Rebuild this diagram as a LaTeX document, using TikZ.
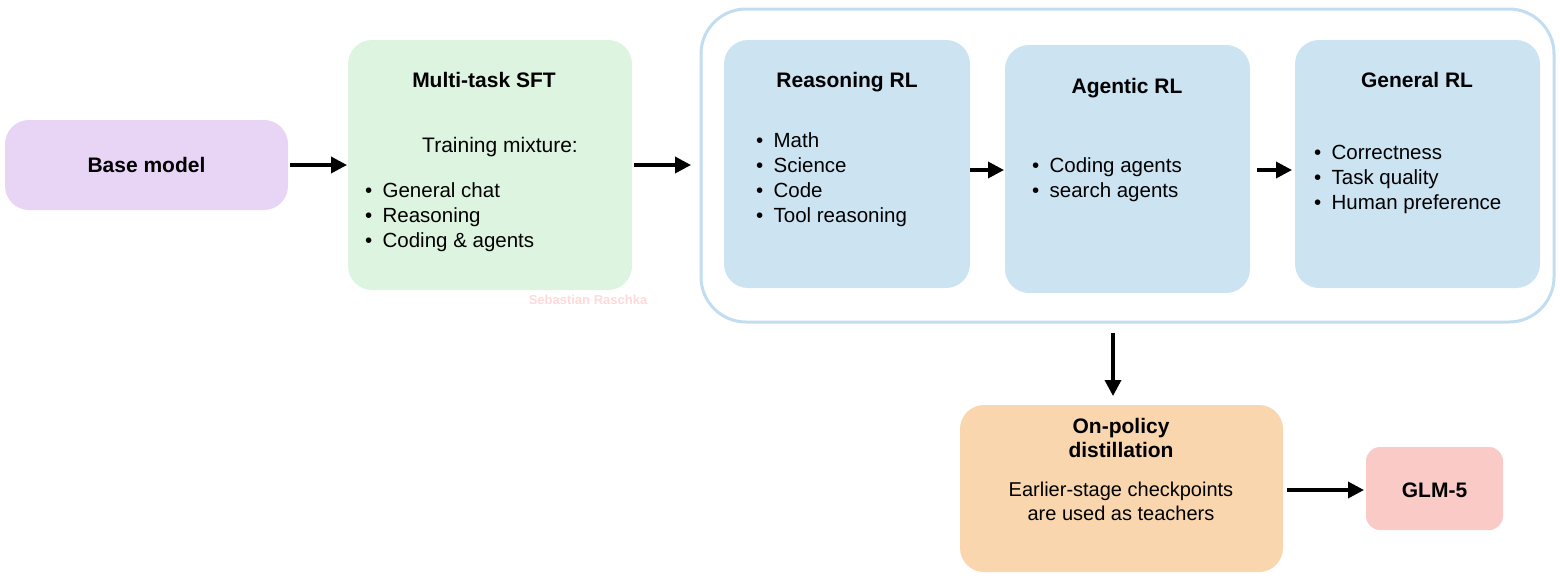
\documentclass[tikz,border=0pt]{standalone}
\usepackage{fontspec}
\setmainfont{Liberation Sans}
\usetikzlibrary{arrows.meta}
\definecolor{cpurple}{HTML}{E8D5F6}
\definecolor{cgreen}{HTML}{DDF5E0}
\definecolor{cblue}{HTML}{CCE3F2}
\definecolor{cout}{HTML}{C2DDF0}
\definecolor{corange}{HTML}{F9D6AE}
\definecolor{cpink}{HTML}{F9CAC6}
\begin{document}
\begin{tikzpicture}[x=1pt,y=-1pt,
  box/.style={rounded corners=24pt},
  t/.style={font=\fontsize{21}{24}\selectfont, anchor=base},
  tb/.style={font=\fontsize{21}{24}\selectfont\bfseries, anchor=base},
  bl/.style={font=\fontsize{20.5}{25}\selectfont, anchor=north west, align=left, inner sep=0pt},
  arr/.style={-{Triangle[length=16pt,width=16pt]}, line width=3.5pt}]
\useasboundingbox (0,0) rectangle (1560,579);
\fill[box,cpurple] (5,120) rectangle (288,210);
\node[tb] (base) at (146.5,172) {Base model};
\coordinate (baseR) at (290,165);
\fill[box,cgreen] (348,40) rectangle (632,290);
\node[tb] (sft) at (484,87) {Multi-task SFT};
\node[t] (mix) at (500,152) {Training mixture:};
\node[bl] (sftb) at (365,182) {•\enspace General chat\\•\enspace Reasoning\\•\enspace Coding \& agents};
\node[font=\fontsize{13}{14}\selectfont\bfseries, text=red!15] (wm) at (588,300) {Sebastian Raschka};
\draw[arr] (baseR) -- (347,165) coordinate (sftL);
\draw[arr] (634,165) coordinate (sftR) -- (691,165) coordinate (grpL);
\draw[cout, line width=3pt, rounded corners=45pt] (701,9) rectangle (1554,322);
\fill[box,cblue] (724,40) rectangle (970,288);
\node[tb] (rr) at (847,87) {Reasoning RL};
\node[bl] (rrb) at (756,132) {•\enspace Math\\•\enspace Science\\•\enspace Code\\•\enspace Tool reasoning};
\fill[box,cblue] (1005,45) rectangle (1250,293);
\node[tb] (ar) at (1127,93) {Agentic RL};
\node[bl] (arb) at (1032,157) {•\enspace Coding agents\\•\enspace search agents};
\fill[box,cblue] (1295,40) rectangle (1540,288);
\node[tb] (gr) at (1417,87) {General RL};
\node[bl] (grb) at (1314,145) {•\enspace Correctness\\•\enspace Task quality\\•\enspace Human preference};
\draw[arr] (970,170) coordinate (a1) -- (1004,170) coordinate (a2);
\draw[arr] (1257,170) coordinate (b1) -- (1292,170) coordinate (b2);
\draw[arr] (1113,333) coordinate (c1) -- (1113,396) coordinate (c2);
\fill[box,corange] (960,405) rectangle (1283,572);
\node[anchor=north, align=center, font=\fontsize{21}{24}\selectfont\bfseries] (op) at (1121,415) {On-policy\\distillation};
\node[anchor=north, align=center, font=\fontsize{20}{24}\selectfont] (opt) at (1121,478) {Earlier-stage checkpoints\\are used as teachers};
\fill[rounded corners=14pt,cpink] (1366,447) rectangle (1503,530);
\node[tb] (glm) at (1434.5,497) {GLM-5};
\draw[arr] (1287,490) coordinate (d1) -- (1364,490) coordinate (d2);
\end{tikzpicture}
\end{document}
